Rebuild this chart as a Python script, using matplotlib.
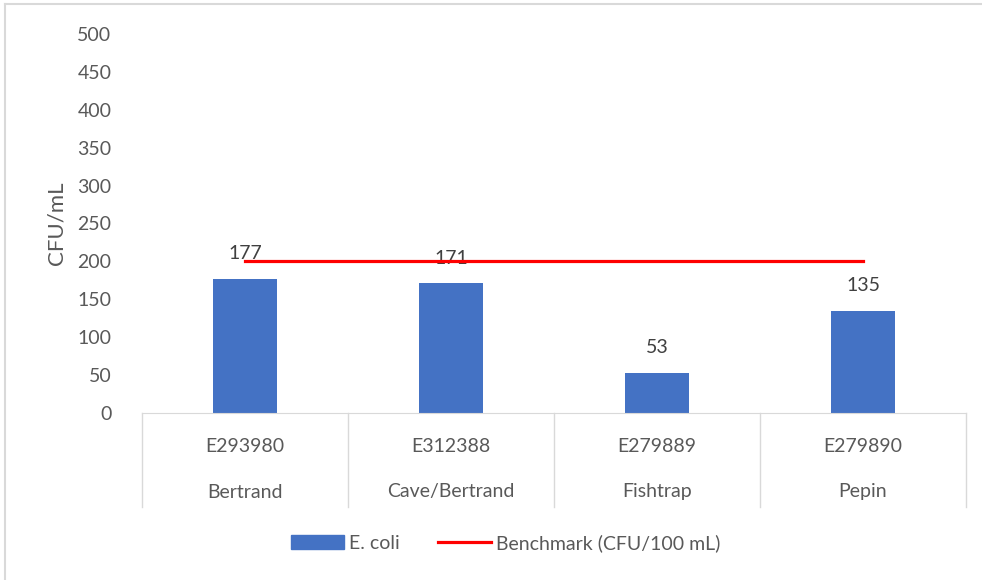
import matplotlib.pyplot as plt
from matplotlib.lines import Line2D
from matplotlib.patches import Patch

stations = ['E293980', 'E312388', 'E279889', 'E279890']
sites = ['Bertrand', 'Cave/Bertrand', 'Fishtrap', 'Pepin']
ecoli = [177, 171, 53, 135]
benchmark = [200, 200, 200, 200]

plt.rcParams['font.family'] = ['Lato', 'DejaVu Sans']

fig = plt.figure(figsize=(9.82, 5.8), dpi=100)
ax = fig.add_axes([142 / 982, 1 - 413 / 580, 824 / 982, 379 / 580])

x = range(len(stations))
ax.bar(x, ecoli, width=0.31, color='#4472C4', zorder=2)
ax.plot(x, benchmark, color='#FF0000', lw=2.3, zorder=4)

for i, v in enumerate(ecoli):
    ax.annotate(str(v), (i, v), xytext=(0, 12), textcoords='offset points',
                ha='center', va='bottom', fontsize=14, color='#404040', zorder=3)

ax.set_xlim(-0.5, 3.5)
ax.set_ylim(0, 500)
ax.set_yticks(range(0, 501, 50))
ax.tick_params(axis='y', length=0, labelsize=14, labelcolor='#595959', pad=22)
ax.set_xticks([])
for s in ['top', 'right', 'left']:
    ax.spines[s].set_visible(False)
ax.spines['bottom'].set_color('#d9d9d9')
ax.set_ylabel('CFU/mL', fontsize=16, color='#595959', labelpad=8)

# two-level category axis
sep_bottom = -(507 - 413) / 379
for i in range(len(stations) + 1):
    ax.add_line(Line2D([i - 0.5, i - 0.5], [0, sep_bottom], color='#d9d9d9', lw=1,
                       transform=ax.get_xaxis_transform(), clip_on=False))
for i in x:
    ax.text(i, -(446 - 413) / 379, stations[i], transform=ax.get_xaxis_transform(),
            ha='center', va='center', fontsize=14, color='#595959')
    ax.text(i, -(492 - 413) / 379, sites[i], transform=ax.get_xaxis_transform(),
            ha='center', va='center', fontsize=14, color='#595959')

handles = [Patch(color='#4472C4', label='E. coli'),
           Line2D([], [], color='#FF0000', lw=2.3, label='Benchmark (CFU/100 mL)')]
fig.legend(handles=handles, loc='center', bbox_to_anchor=(0.515, 1 - 543 / 580), ncol=2,
           frameon=False, fontsize=14, labelcolor='#595959', handlelength=2.7,
           handletextpad=0.25, columnspacing=2.0)

# chart area border (top and left visible)
fig.add_artist(Line2D([5 / 982, 1], [1 - 4 / 580, 1 - 4 / 580], color='#d9d9d9', lw=1.5,
                      transform=fig.transFigure))
fig.add_artist(Line2D([5 / 982, 5 / 982], [0, 1 - 4 / 580], color='#d9d9d9', lw=1.5,
                      transform=fig.transFigure))

fig.savefig('out.png', dpi=100)
